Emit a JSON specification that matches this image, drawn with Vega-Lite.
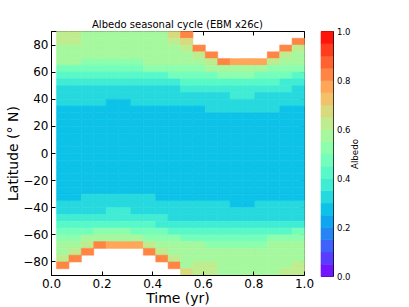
{
"$schema":"https://vega.github.io/schema/vega-lite/v6.json",
"padding":{"left":6,"top":19,"right":0,"bottom":0},
"background":"white",
"bounds":"flush",
"spacing":17,
"config":{
 "view":{"stroke":"black","strokeWidth":1},
 "axis":{"grid":false,"domainColor":"black","domainWidth":1,"tickColor":"black","tickSize":-4,"tickWidth":1,"labelColor":"black","titleColor":"black","labelFont":"DejaVu Sans","titleFont":"DejaVu Sans","labelFontSize":12,"titleFontSize":14,"titleFontWeight":"normal","labelPadding":8,"labelFlush":false,"labelOverlap":false}
},
"hconcat":[
{
"width":253,"height":244,
"title":{"text":"Albedo seasonal cycle (EBM x26c)","font":"DejaVu Sans","fontSize":10,"fontWeight":"normal","color":"black","offset":1},
"resolve":{"axis":{"x":"independent","y":"independent"}},
"layer":[
{
"data":{"values":[
{"t":0.02,"lat":85,"a":0.625},{"t":0.02,"lat":80,"a":0.625},{"t":0.02,"lat":75,"a":0.575},{"t":0.02,"lat":70,"a":0.575},{"t":0.02,"lat":65,"a":0.575},{"t":0.02,"lat":60,"a":0.475},{"t":0.02,"lat":55,"a":0.425},{"t":0.02,"lat":50,"a":0.375},{"t":0.02,"lat":45,"a":0.325},{"t":0.02,"lat":40,"a":0.325},{"t":0.02,"lat":35,"a":0.325},{"t":0.02,"lat":30,"a":0.275},
{"t":0.02,"lat":25,"a":0.275},{"t":0.02,"lat":20,"a":0.275},{"t":0.02,"lat":15,"a":0.275},{"t":0.02,"lat":10,"a":0.275},{"t":0.02,"lat":5,"a":0.275},{"t":0.02,"lat":0,"a":0.275},{"t":0.02,"lat":-5,"a":0.275},{"t":0.02,"lat":-10,"a":0.275},{"t":0.02,"lat":-15,"a":0.275},{"t":0.02,"lat":-20,"a":0.275},{"t":0.02,"lat":-25,"a":0.275},{"t":0.02,"lat":-30,"a":0.275},
{"t":0.02,"lat":-35,"a":0.275},{"t":0.02,"lat":-40,"a":0.325},{"t":0.02,"lat":-45,"a":0.325},{"t":0.02,"lat":-50,"a":0.375},{"t":0.02,"lat":-55,"a":0.425},{"t":0.02,"lat":-60,"a":0.475},{"t":0.02,"lat":-65,"a":0.525},{"t":0.02,"lat":-70,"a":0.575},{"t":0.02,"lat":-75,"a":0.575},{"t":0.02,"lat":-80,"a":0.625},{"t":0.02,"lat":-85,"a":0.825},

{"t":0.069,"lat":85,"a":0.625},{"t":0.069,"lat":80,"a":0.625},{"t":0.069,"lat":75,"a":0.575},{"t":0.069,"lat":70,"a":0.575},{"t":0.069,"lat":65,"a":0.575},{"t":0.069,"lat":60,"a":0.475},{"t":0.069,"lat":55,"a":0.425},{"t":0.069,"lat":50,"a":0.375},{"t":0.069,"lat":45,"a":0.325},{"t":0.069,"lat":40,"a":0.325},{"t":0.069,"lat":35,"a":0.325},{"t":0.069,"lat":30,"a":0.275},
{"t":0.069,"lat":25,"a":0.275},{"t":0.069,"lat":20,"a":0.275},{"t":0.069,"lat":15,"a":0.275},{"t":0.069,"lat":10,"a":0.275},{"t":0.069,"lat":5,"a":0.275},{"t":0.069,"lat":0,"a":0.275},{"t":0.069,"lat":-5,"a":0.275},{"t":0.069,"lat":-10,"a":0.275},{"t":0.069,"lat":-15,"a":0.275},{"t":0.069,"lat":-20,"a":0.275},{"t":0.069,"lat":-25,"a":0.275},{"t":0.069,"lat":-30,"a":0.275},
{"t":0.069,"lat":-35,"a":0.275},{"t":0.069,"lat":-40,"a":0.325},{"t":0.069,"lat":-45,"a":0.325},{"t":0.069,"lat":-50,"a":0.375},{"t":0.069,"lat":-55,"a":0.425},{"t":0.069,"lat":-60,"a":0.475},{"t":0.069,"lat":-65,"a":0.525},{"t":0.069,"lat":-70,"a":0.575},{"t":0.069,"lat":-75,"a":0.625},{"t":0.069,"lat":-80,"a":0.825},

{"t":0.118,"lat":85,"a":0.575},{"t":0.118,"lat":80,"a":0.575},{"t":0.118,"lat":75,"a":0.575},{"t":0.118,"lat":70,"a":0.575},{"t":0.118,"lat":65,"a":0.525},{"t":0.118,"lat":60,"a":0.475},{"t":0.118,"lat":55,"a":0.425},{"t":0.118,"lat":50,"a":0.375},{"t":0.118,"lat":45,"a":0.325},{"t":0.118,"lat":40,"a":0.325},{"t":0.118,"lat":35,"a":0.325},{"t":0.118,"lat":30,"a":0.275},
{"t":0.118,"lat":25,"a":0.275},{"t":0.118,"lat":20,"a":0.275},{"t":0.118,"lat":15,"a":0.275},{"t":0.118,"lat":10,"a":0.275},{"t":0.118,"lat":5,"a":0.275},{"t":0.118,"lat":0,"a":0.275},{"t":0.118,"lat":-5,"a":0.275},{"t":0.118,"lat":-10,"a":0.275},{"t":0.118,"lat":-15,"a":0.275},{"t":0.118,"lat":-20,"a":0.275},{"t":0.118,"lat":-25,"a":0.275},{"t":0.118,"lat":-30,"a":0.275},
{"t":0.118,"lat":-35,"a":0.325},{"t":0.118,"lat":-40,"a":0.325},{"t":0.118,"lat":-45,"a":0.325},{"t":0.118,"lat":-50,"a":0.375},{"t":0.118,"lat":-55,"a":0.425},{"t":0.118,"lat":-60,"a":0.475},{"t":0.118,"lat":-65,"a":0.575},{"t":0.118,"lat":-70,"a":0.625},{"t":0.118,"lat":-75,"a":0.825},

{"t":0.167,"lat":85,"a":0.575},{"t":0.167,"lat":80,"a":0.575},{"t":0.167,"lat":75,"a":0.575},{"t":0.167,"lat":70,"a":0.575},{"t":0.167,"lat":65,"a":0.525},{"t":0.167,"lat":60,"a":0.475},{"t":0.167,"lat":55,"a":0.425},{"t":0.167,"lat":50,"a":0.375},{"t":0.167,"lat":45,"a":0.325},{"t":0.167,"lat":40,"a":0.325},{"t":0.167,"lat":35,"a":0.325},{"t":0.167,"lat":30,"a":0.275},
{"t":0.167,"lat":25,"a":0.275},{"t":0.167,"lat":20,"a":0.275},{"t":0.167,"lat":15,"a":0.275},{"t":0.167,"lat":10,"a":0.275},{"t":0.167,"lat":5,"a":0.275},{"t":0.167,"lat":0,"a":0.275},{"t":0.167,"lat":-5,"a":0.275},{"t":0.167,"lat":-10,"a":0.275},{"t":0.167,"lat":-15,"a":0.275},{"t":0.167,"lat":-20,"a":0.275},{"t":0.167,"lat":-25,"a":0.275},{"t":0.167,"lat":-30,"a":0.275},
{"t":0.167,"lat":-35,"a":0.325},{"t":0.167,"lat":-40,"a":0.325},{"t":0.167,"lat":-45,"a":0.325},{"t":0.167,"lat":-50,"a":0.375},{"t":0.167,"lat":-55,"a":0.425},{"t":0.167,"lat":-60,"a":0.525},{"t":0.167,"lat":-65,"a":0.575},{"t":0.167,"lat":-70,"a":0.825},

{"t":0.216,"lat":85,"a":0.575},{"t":0.216,"lat":80,"a":0.575},{"t":0.216,"lat":75,"a":0.575},{"t":0.216,"lat":70,"a":0.575},{"t":0.216,"lat":65,"a":0.525},{"t":0.216,"lat":60,"a":0.475},{"t":0.216,"lat":55,"a":0.425},{"t":0.216,"lat":50,"a":0.375},{"t":0.216,"lat":45,"a":0.325},{"t":0.216,"lat":40,"a":0.325},{"t":0.216,"lat":35,"a":0.275},{"t":0.216,"lat":30,"a":0.275},
{"t":0.216,"lat":25,"a":0.275},{"t":0.216,"lat":20,"a":0.275},{"t":0.216,"lat":15,"a":0.275},{"t":0.216,"lat":10,"a":0.275},{"t":0.216,"lat":5,"a":0.275},{"t":0.216,"lat":0,"a":0.275},{"t":0.216,"lat":-5,"a":0.275},{"t":0.216,"lat":-10,"a":0.275},{"t":0.216,"lat":-15,"a":0.275},{"t":0.216,"lat":-20,"a":0.275},{"t":0.216,"lat":-25,"a":0.275},{"t":0.216,"lat":-30,"a":0.275},
{"t":0.216,"lat":-35,"a":0.325},{"t":0.216,"lat":-40,"a":0.325},{"t":0.216,"lat":-45,"a":0.375},{"t":0.216,"lat":-50,"a":0.375},{"t":0.216,"lat":-55,"a":0.425},{"t":0.216,"lat":-60,"a":0.525},{"t":0.216,"lat":-65,"a":0.575},{"t":0.216,"lat":-70,"a":0.775},

{"t":0.265,"lat":85,"a":0.575},{"t":0.265,"lat":80,"a":0.575},{"t":0.265,"lat":75,"a":0.575},{"t":0.265,"lat":70,"a":0.575},{"t":0.265,"lat":65,"a":0.525},{"t":0.265,"lat":60,"a":0.475},{"t":0.265,"lat":55,"a":0.425},{"t":0.265,"lat":50,"a":0.375},{"t":0.265,"lat":45,"a":0.325},{"t":0.265,"lat":40,"a":0.325},{"t":0.265,"lat":35,"a":0.275},{"t":0.265,"lat":30,"a":0.275},
{"t":0.265,"lat":25,"a":0.275},{"t":0.265,"lat":20,"a":0.275},{"t":0.265,"lat":15,"a":0.275},{"t":0.265,"lat":10,"a":0.275},{"t":0.265,"lat":5,"a":0.275},{"t":0.265,"lat":0,"a":0.275},{"t":0.265,"lat":-5,"a":0.275},{"t":0.265,"lat":-10,"a":0.275},{"t":0.265,"lat":-15,"a":0.275},{"t":0.265,"lat":-20,"a":0.275},{"t":0.265,"lat":-25,"a":0.275},{"t":0.265,"lat":-30,"a":0.275},
{"t":0.265,"lat":-35,"a":0.325},{"t":0.265,"lat":-40,"a":0.325},{"t":0.265,"lat":-45,"a":0.375},{"t":0.265,"lat":-50,"a":0.375},{"t":0.265,"lat":-55,"a":0.425},{"t":0.265,"lat":-60,"a":0.525},{"t":0.265,"lat":-65,"a":0.575},{"t":0.265,"lat":-70,"a":0.775},

{"t":0.314,"lat":85,"a":0.575},{"t":0.314,"lat":80,"a":0.575},{"t":0.314,"lat":75,"a":0.575},{"t":0.314,"lat":70,"a":0.575},{"t":0.314,"lat":65,"a":0.525},{"t":0.314,"lat":60,"a":0.475},{"t":0.314,"lat":55,"a":0.425},{"t":0.314,"lat":50,"a":0.375},{"t":0.314,"lat":45,"a":0.325},{"t":0.314,"lat":40,"a":0.325},{"t":0.314,"lat":35,"a":0.325},{"t":0.314,"lat":30,"a":0.275},
{"t":0.314,"lat":25,"a":0.275},{"t":0.314,"lat":20,"a":0.275},{"t":0.314,"lat":15,"a":0.275},{"t":0.314,"lat":10,"a":0.275},{"t":0.314,"lat":5,"a":0.275},{"t":0.314,"lat":0,"a":0.275},{"t":0.314,"lat":-5,"a":0.275},{"t":0.314,"lat":-10,"a":0.275},{"t":0.314,"lat":-15,"a":0.275},{"t":0.314,"lat":-20,"a":0.275},{"t":0.314,"lat":-25,"a":0.275},{"t":0.314,"lat":-30,"a":0.275},
{"t":0.314,"lat":-35,"a":0.325},{"t":0.314,"lat":-40,"a":0.325},{"t":0.314,"lat":-45,"a":0.325},{"t":0.314,"lat":-50,"a":0.375},{"t":0.314,"lat":-55,"a":0.425},{"t":0.314,"lat":-60,"a":0.475},{"t":0.314,"lat":-65,"a":0.575},{"t":0.314,"lat":-70,"a":0.775},

{"t":0.363,"lat":85,"a":0.575},{"t":0.363,"lat":80,"a":0.575},{"t":0.363,"lat":75,"a":0.575},{"t":0.363,"lat":70,"a":0.575},{"t":0.363,"lat":65,"a":0.575},{"t":0.363,"lat":60,"a":0.525},{"t":0.363,"lat":55,"a":0.425},{"t":0.363,"lat":50,"a":0.375},{"t":0.363,"lat":45,"a":0.325},{"t":0.363,"lat":40,"a":0.325},{"t":0.363,"lat":35,"a":0.325},{"t":0.363,"lat":30,"a":0.275},
{"t":0.363,"lat":25,"a":0.275},{"t":0.363,"lat":20,"a":0.275},{"t":0.363,"lat":15,"a":0.275},{"t":0.363,"lat":10,"a":0.275},{"t":0.363,"lat":5,"a":0.275},{"t":0.363,"lat":0,"a":0.275},{"t":0.363,"lat":-5,"a":0.275},{"t":0.363,"lat":-10,"a":0.275},{"t":0.363,"lat":-15,"a":0.275},{"t":0.363,"lat":-20,"a":0.275},{"t":0.363,"lat":-25,"a":0.275},{"t":0.363,"lat":-30,"a":0.275},
{"t":0.363,"lat":-35,"a":0.325},{"t":0.363,"lat":-40,"a":0.325},{"t":0.363,"lat":-45,"a":0.325},{"t":0.363,"lat":-50,"a":0.375},{"t":0.363,"lat":-55,"a":0.425},{"t":0.363,"lat":-60,"a":0.475},{"t":0.363,"lat":-65,"a":0.525},{"t":0.363,"lat":-70,"a":0.625},{"t":0.363,"lat":-75,"a":0.825},

{"t":0.412,"lat":85,"a":0.575},{"t":0.412,"lat":80,"a":0.575},{"t":0.412,"lat":75,"a":0.575},{"t":0.412,"lat":70,"a":0.575},{"t":0.412,"lat":65,"a":0.575},{"t":0.412,"lat":60,"a":0.525},{"t":0.412,"lat":55,"a":0.425},{"t":0.412,"lat":50,"a":0.375},{"t":0.412,"lat":45,"a":0.325},{"t":0.412,"lat":40,"a":0.325},{"t":0.412,"lat":35,"a":0.325},{"t":0.412,"lat":30,"a":0.275},
{"t":0.412,"lat":25,"a":0.275},{"t":0.412,"lat":20,"a":0.275},{"t":0.412,"lat":15,"a":0.275},{"t":0.412,"lat":10,"a":0.275},{"t":0.412,"lat":5,"a":0.275},{"t":0.412,"lat":0,"a":0.275},{"t":0.412,"lat":-5,"a":0.275},{"t":0.412,"lat":-10,"a":0.275},{"t":0.412,"lat":-15,"a":0.275},{"t":0.412,"lat":-20,"a":0.275},{"t":0.412,"lat":-25,"a":0.275},{"t":0.412,"lat":-30,"a":0.275},
{"t":0.412,"lat":-35,"a":0.275},{"t":0.412,"lat":-40,"a":0.325},{"t":0.412,"lat":-45,"a":0.325},{"t":0.412,"lat":-50,"a":0.375},{"t":0.412,"lat":-55,"a":0.375},{"t":0.412,"lat":-60,"a":0.475},{"t":0.412,"lat":-65,"a":0.525},{"t":0.412,"lat":-70,"a":0.575},{"t":0.412,"lat":-75,"a":0.625},{"t":0.412,"lat":-80,"a":0.825},

{"t":0.461,"lat":85,"a":0.675},{"t":0.461,"lat":80,"a":0.625},{"t":0.461,"lat":75,"a":0.575},{"t":0.461,"lat":70,"a":0.575},{"t":0.461,"lat":65,"a":0.575},{"t":0.461,"lat":60,"a":0.525},{"t":0.461,"lat":55,"a":0.475},{"t":0.461,"lat":50,"a":0.375},{"t":0.461,"lat":45,"a":0.325},{"t":0.461,"lat":40,"a":0.325},{"t":0.461,"lat":35,"a":0.325},{"t":0.461,"lat":30,"a":0.275},
{"t":0.461,"lat":25,"a":0.275},{"t":0.461,"lat":20,"a":0.275},{"t":0.461,"lat":15,"a":0.275},{"t":0.461,"lat":10,"a":0.275},{"t":0.461,"lat":5,"a":0.275},{"t":0.461,"lat":0,"a":0.275},{"t":0.461,"lat":-5,"a":0.275},{"t":0.461,"lat":-10,"a":0.275},{"t":0.461,"lat":-15,"a":0.275},{"t":0.461,"lat":-20,"a":0.275},{"t":0.461,"lat":-25,"a":0.275},{"t":0.461,"lat":-30,"a":0.275},
{"t":0.461,"lat":-35,"a":0.275},{"t":0.461,"lat":-40,"a":0.325},{"t":0.461,"lat":-45,"a":0.325},{"t":0.461,"lat":-50,"a":0.325},{"t":0.461,"lat":-55,"a":0.375},{"t":0.461,"lat":-60,"a":0.425},{"t":0.461,"lat":-65,"a":0.525},{"t":0.461,"lat":-70,"a":0.575},{"t":0.461,"lat":-75,"a":0.575},{"t":0.461,"lat":-80,"a":0.625},{"t":0.461,"lat":-85,"a":0.825},

{"t":0.51,"lat":85,"a":0.825},{"t":0.51,"lat":80,"a":0.675},{"t":0.51,"lat":75,"a":0.625},{"t":0.51,"lat":70,"a":0.575},{"t":0.51,"lat":65,"a":0.575},{"t":0.51,"lat":60,"a":0.525},{"t":0.51,"lat":55,"a":0.475},{"t":0.51,"lat":50,"a":0.425},{"t":0.51,"lat":45,"a":0.375},{"t":0.51,"lat":40,"a":0.325},{"t":0.51,"lat":35,"a":0.325},{"t":0.51,"lat":30,"a":0.275},
{"t":0.51,"lat":25,"a":0.275},{"t":0.51,"lat":20,"a":0.275},{"t":0.51,"lat":15,"a":0.275},{"t":0.51,"lat":10,"a":0.275},{"t":0.51,"lat":5,"a":0.275},{"t":0.51,"lat":0,"a":0.275},{"t":0.51,"lat":-5,"a":0.275},{"t":0.51,"lat":-10,"a":0.275},{"t":0.51,"lat":-15,"a":0.275},{"t":0.51,"lat":-20,"a":0.275},{"t":0.51,"lat":-25,"a":0.275},{"t":0.51,"lat":-30,"a":0.275},
{"t":0.51,"lat":-35,"a":0.275},{"t":0.51,"lat":-40,"a":0.325},{"t":0.51,"lat":-45,"a":0.325},{"t":0.51,"lat":-50,"a":0.325},{"t":0.51,"lat":-55,"a":0.375},{"t":0.51,"lat":-60,"a":0.425},{"t":0.51,"lat":-65,"a":0.475},{"t":0.51,"lat":-70,"a":0.575},{"t":0.51,"lat":-75,"a":0.575},{"t":0.51,"lat":-80,"a":0.575},{"t":0.51,"lat":-85,"a":0.575},{"t":0.51,"lat":-90,"a":0.675},

{"t":0.559,"lat":75,"a":0.825},{"t":0.559,"lat":70,"a":0.625},{"t":0.559,"lat":65,"a":0.575},{"t":0.559,"lat":60,"a":0.525},{"t":0.559,"lat":55,"a":0.475},{"t":0.559,"lat":50,"a":0.425},{"t":0.559,"lat":45,"a":0.375},{"t":0.559,"lat":40,"a":0.325},{"t":0.559,"lat":35,"a":0.325},{"t":0.559,"lat":30,"a":0.275},
{"t":0.559,"lat":25,"a":0.275},{"t":0.559,"lat":20,"a":0.275},{"t":0.559,"lat":15,"a":0.275},{"t":0.559,"lat":10,"a":0.275},{"t":0.559,"lat":5,"a":0.275},{"t":0.559,"lat":0,"a":0.275},{"t":0.559,"lat":-5,"a":0.275},{"t":0.559,"lat":-10,"a":0.275},{"t":0.559,"lat":-15,"a":0.275},{"t":0.559,"lat":-20,"a":0.275},{"t":0.559,"lat":-25,"a":0.275},{"t":0.559,"lat":-30,"a":0.275},
{"t":0.559,"lat":-35,"a":0.275},{"t":0.559,"lat":-40,"a":0.325},{"t":0.559,"lat":-45,"a":0.325},{"t":0.559,"lat":-50,"a":0.325},{"t":0.559,"lat":-55,"a":0.375},{"t":0.559,"lat":-60,"a":0.425},{"t":0.559,"lat":-65,"a":0.475},{"t":0.559,"lat":-70,"a":0.575},{"t":0.559,"lat":-75,"a":0.575},{"t":0.559,"lat":-80,"a":0.575},{"t":0.559,"lat":-85,"a":0.625},{"t":0.559,"lat":-90,"a":0.625},

{"t":0.608,"lat":70,"a":0.825},{"t":0.608,"lat":65,"a":0.625},{"t":0.608,"lat":60,"a":0.575},{"t":0.608,"lat":55,"a":0.475},{"t":0.608,"lat":50,"a":0.425},{"t":0.608,"lat":45,"a":0.375},{"t":0.608,"lat":40,"a":0.325},{"t":0.608,"lat":35,"a":0.325},{"t":0.608,"lat":30,"a":0.325},
{"t":0.608,"lat":25,"a":0.275},{"t":0.608,"lat":20,"a":0.275},{"t":0.608,"lat":15,"a":0.275},{"t":0.608,"lat":10,"a":0.275},{"t":0.608,"lat":5,"a":0.275},{"t":0.608,"lat":0,"a":0.275},{"t":0.608,"lat":-5,"a":0.275},{"t":0.608,"lat":-10,"a":0.275},{"t":0.608,"lat":-15,"a":0.275},{"t":0.608,"lat":-20,"a":0.275},{"t":0.608,"lat":-25,"a":0.275},{"t":0.608,"lat":-30,"a":0.275},
{"t":0.608,"lat":-35,"a":0.275},{"t":0.608,"lat":-40,"a":0.325},{"t":0.608,"lat":-45,"a":0.325},{"t":0.608,"lat":-50,"a":0.325},{"t":0.608,"lat":-55,"a":0.375},{"t":0.608,"lat":-60,"a":0.425},{"t":0.608,"lat":-65,"a":0.475},{"t":0.608,"lat":-70,"a":0.525},{"t":0.608,"lat":-75,"a":0.575},{"t":0.608,"lat":-80,"a":0.575},{"t":0.608,"lat":-85,"a":0.625},{"t":0.608,"lat":-90,"a":0.625},

{"t":0.657,"lat":65,"a":0.825},{"t":0.657,"lat":60,"a":0.575},{"t":0.657,"lat":55,"a":0.525},{"t":0.657,"lat":50,"a":0.425},{"t":0.657,"lat":45,"a":0.375},{"t":0.657,"lat":40,"a":0.325},{"t":0.657,"lat":35,"a":0.325},{"t":0.657,"lat":30,"a":0.325},
{"t":0.657,"lat":25,"a":0.275},{"t":0.657,"lat":20,"a":0.275},{"t":0.657,"lat":15,"a":0.275},{"t":0.657,"lat":10,"a":0.275},{"t":0.657,"lat":5,"a":0.275},{"t":0.657,"lat":0,"a":0.275},{"t":0.657,"lat":-5,"a":0.275},{"t":0.657,"lat":-10,"a":0.275},{"t":0.657,"lat":-15,"a":0.275},{"t":0.657,"lat":-20,"a":0.275},{"t":0.657,"lat":-25,"a":0.275},{"t":0.657,"lat":-30,"a":0.275},
{"t":0.657,"lat":-35,"a":0.275},{"t":0.657,"lat":-40,"a":0.325},{"t":0.657,"lat":-45,"a":0.325},{"t":0.657,"lat":-50,"a":0.325},{"t":0.657,"lat":-55,"a":0.375},{"t":0.657,"lat":-60,"a":0.425},{"t":0.657,"lat":-65,"a":0.475},{"t":0.657,"lat":-70,"a":0.525},{"t":0.657,"lat":-75,"a":0.575},{"t":0.657,"lat":-80,"a":0.575},{"t":0.657,"lat":-85,"a":0.575},{"t":0.657,"lat":-90,"a":0.575},

{"t":0.706,"lat":65,"a":0.775},{"t":0.706,"lat":60,"a":0.575},{"t":0.706,"lat":55,"a":0.525},{"t":0.706,"lat":50,"a":0.425},{"t":0.706,"lat":45,"a":0.375},{"t":0.706,"lat":40,"a":0.375},{"t":0.706,"lat":35,"a":0.325},{"t":0.706,"lat":30,"a":0.325},
{"t":0.706,"lat":25,"a":0.275},{"t":0.706,"lat":20,"a":0.275},{"t":0.706,"lat":15,"a":0.275},{"t":0.706,"lat":10,"a":0.275},{"t":0.706,"lat":5,"a":0.275},{"t":0.706,"lat":0,"a":0.275},{"t":0.706,"lat":-5,"a":0.275},{"t":0.706,"lat":-10,"a":0.275},{"t":0.706,"lat":-15,"a":0.275},{"t":0.706,"lat":-20,"a":0.275},{"t":0.706,"lat":-25,"a":0.275},{"t":0.706,"lat":-30,"a":0.275},
{"t":0.706,"lat":-35,"a":0.275},{"t":0.706,"lat":-40,"a":0.275},{"t":0.706,"lat":-45,"a":0.325},{"t":0.706,"lat":-50,"a":0.325},{"t":0.706,"lat":-55,"a":0.375},{"t":0.706,"lat":-60,"a":0.425},{"t":0.706,"lat":-65,"a":0.475},{"t":0.706,"lat":-70,"a":0.525},{"t":0.706,"lat":-75,"a":0.575},{"t":0.706,"lat":-80,"a":0.575},{"t":0.706,"lat":-85,"a":0.575},{"t":0.706,"lat":-90,"a":0.575},

{"t":0.755,"lat":65,"a":0.775},{"t":0.755,"lat":60,"a":0.575},{"t":0.755,"lat":55,"a":0.525},{"t":0.755,"lat":50,"a":0.425},{"t":0.755,"lat":45,"a":0.375},{"t":0.755,"lat":40,"a":0.375},{"t":0.755,"lat":35,"a":0.325},{"t":0.755,"lat":30,"a":0.325},
{"t":0.755,"lat":25,"a":0.275},{"t":0.755,"lat":20,"a":0.275},{"t":0.755,"lat":15,"a":0.275},{"t":0.755,"lat":10,"a":0.275},{"t":0.755,"lat":5,"a":0.275},{"t":0.755,"lat":0,"a":0.275},{"t":0.755,"lat":-5,"a":0.275},{"t":0.755,"lat":-10,"a":0.275},{"t":0.755,"lat":-15,"a":0.275},{"t":0.755,"lat":-20,"a":0.275},{"t":0.755,"lat":-25,"a":0.275},{"t":0.755,"lat":-30,"a":0.275},
{"t":0.755,"lat":-35,"a":0.275},{"t":0.755,"lat":-40,"a":0.275},{"t":0.755,"lat":-45,"a":0.325},{"t":0.755,"lat":-50,"a":0.325},{"t":0.755,"lat":-55,"a":0.375},{"t":0.755,"lat":-60,"a":0.425},{"t":0.755,"lat":-65,"a":0.475},{"t":0.755,"lat":-70,"a":0.525},{"t":0.755,"lat":-75,"a":0.575},{"t":0.755,"lat":-80,"a":0.575},{"t":0.755,"lat":-85,"a":0.575},{"t":0.755,"lat":-90,"a":0.575},

{"t":0.804,"lat":65,"a":0.775},{"t":0.804,"lat":60,"a":0.575},{"t":0.804,"lat":55,"a":0.475},{"t":0.804,"lat":50,"a":0.425},{"t":0.804,"lat":45,"a":0.375},{"t":0.804,"lat":40,"a":0.325},{"t":0.804,"lat":35,"a":0.325},{"t":0.804,"lat":30,"a":0.325},
{"t":0.804,"lat":25,"a":0.275},{"t":0.804,"lat":20,"a":0.275},{"t":0.804,"lat":15,"a":0.275},{"t":0.804,"lat":10,"a":0.275},{"t":0.804,"lat":5,"a":0.275},{"t":0.804,"lat":0,"a":0.275},{"t":0.804,"lat":-5,"a":0.275},{"t":0.804,"lat":-10,"a":0.275},{"t":0.804,"lat":-15,"a":0.275},{"t":0.804,"lat":-20,"a":0.275},{"t":0.804,"lat":-25,"a":0.275},{"t":0.804,"lat":-30,"a":0.275},
{"t":0.804,"lat":-35,"a":0.275},{"t":0.804,"lat":-40,"a":0.325},{"t":0.804,"lat":-45,"a":0.325},{"t":0.804,"lat":-50,"a":0.325},{"t":0.804,"lat":-55,"a":0.375},{"t":0.804,"lat":-60,"a":0.425},{"t":0.804,"lat":-65,"a":0.475},{"t":0.804,"lat":-70,"a":0.525},{"t":0.804,"lat":-75,"a":0.575},{"t":0.804,"lat":-80,"a":0.575},{"t":0.804,"lat":-85,"a":0.575},{"t":0.804,"lat":-90,"a":0.575},

{"t":0.853,"lat":70,"a":0.825},{"t":0.853,"lat":65,"a":0.625},{"t":0.853,"lat":60,"a":0.525},{"t":0.853,"lat":55,"a":0.475},{"t":0.853,"lat":50,"a":0.425},{"t":0.853,"lat":45,"a":0.375},{"t":0.853,"lat":40,"a":0.325},{"t":0.853,"lat":35,"a":0.325},{"t":0.853,"lat":30,"a":0.325},
{"t":0.853,"lat":25,"a":0.275},{"t":0.853,"lat":20,"a":0.275},{"t":0.853,"lat":15,"a":0.275},{"t":0.853,"lat":10,"a":0.275},{"t":0.853,"lat":5,"a":0.275},{"t":0.853,"lat":0,"a":0.275},{"t":0.853,"lat":-5,"a":0.275},{"t":0.853,"lat":-10,"a":0.275},{"t":0.853,"lat":-15,"a":0.275},{"t":0.853,"lat":-20,"a":0.275},{"t":0.853,"lat":-25,"a":0.275},{"t":0.853,"lat":-30,"a":0.275},
{"t":0.853,"lat":-35,"a":0.275},{"t":0.853,"lat":-40,"a":0.325},{"t":0.853,"lat":-45,"a":0.325},{"t":0.853,"lat":-50,"a":0.325},{"t":0.853,"lat":-55,"a":0.375},{"t":0.853,"lat":-60,"a":0.425},{"t":0.853,"lat":-65,"a":0.525},{"t":0.853,"lat":-70,"a":0.575},{"t":0.853,"lat":-75,"a":0.575},{"t":0.853,"lat":-80,"a":0.575},{"t":0.853,"lat":-85,"a":0.575},{"t":0.853,"lat":-90,"a":0.575},

{"t":0.902,"lat":75,"a":0.825},{"t":0.902,"lat":70,"a":0.625},{"t":0.902,"lat":65,"a":0.575},{"t":0.902,"lat":60,"a":0.525},{"t":0.902,"lat":55,"a":0.475},{"t":0.902,"lat":50,"a":0.375},{"t":0.902,"lat":45,"a":0.375},{"t":0.902,"lat":40,"a":0.325},{"t":0.902,"lat":35,"a":0.325},{"t":0.902,"lat":30,"a":0.275},
{"t":0.902,"lat":25,"a":0.275},{"t":0.902,"lat":20,"a":0.275},{"t":0.902,"lat":15,"a":0.275},{"t":0.902,"lat":10,"a":0.275},{"t":0.902,"lat":5,"a":0.275},{"t":0.902,"lat":0,"a":0.275},{"t":0.902,"lat":-5,"a":0.275},{"t":0.902,"lat":-10,"a":0.275},{"t":0.902,"lat":-15,"a":0.275},{"t":0.902,"lat":-20,"a":0.275},{"t":0.902,"lat":-25,"a":0.275},{"t":0.902,"lat":-30,"a":0.275},
{"t":0.902,"lat":-35,"a":0.275},{"t":0.902,"lat":-40,"a":0.325},{"t":0.902,"lat":-45,"a":0.325},{"t":0.902,"lat":-50,"a":0.325},{"t":0.902,"lat":-55,"a":0.375},{"t":0.902,"lat":-60,"a":0.425},{"t":0.902,"lat":-65,"a":0.525},{"t":0.902,"lat":-70,"a":0.575},{"t":0.902,"lat":-75,"a":0.575},{"t":0.902,"lat":-80,"a":0.575},{"t":0.902,"lat":-85,"a":0.575},{"t":0.902,"lat":-90,"a":0.625},

{"t":0.951,"lat":80,"a":0.825},{"t":0.951,"lat":75,"a":0.625},{"t":0.951,"lat":70,"a":0.575},{"t":0.951,"lat":65,"a":0.575},{"t":0.951,"lat":60,"a":0.525},{"t":0.951,"lat":55,"a":0.425},{"t":0.951,"lat":50,"a":0.375},{"t":0.951,"lat":45,"a":0.325},{"t":0.951,"lat":40,"a":0.325},{"t":0.951,"lat":35,"a":0.325},{"t":0.951,"lat":30,"a":0.275},
{"t":0.951,"lat":25,"a":0.275},{"t":0.951,"lat":20,"a":0.275},{"t":0.951,"lat":15,"a":0.275},{"t":0.951,"lat":10,"a":0.275},{"t":0.951,"lat":5,"a":0.275},{"t":0.951,"lat":0,"a":0.275},{"t":0.951,"lat":-5,"a":0.275},{"t":0.951,"lat":-10,"a":0.275},{"t":0.951,"lat":-15,"a":0.275},{"t":0.951,"lat":-20,"a":0.275},{"t":0.951,"lat":-25,"a":0.275},{"t":0.951,"lat":-30,"a":0.275},
{"t":0.951,"lat":-35,"a":0.275},{"t":0.951,"lat":-40,"a":0.325},{"t":0.951,"lat":-45,"a":0.325},{"t":0.951,"lat":-50,"a":0.325},{"t":0.951,"lat":-55,"a":0.375},{"t":0.951,"lat":-60,"a":0.475},{"t":0.951,"lat":-65,"a":0.525},{"t":0.951,"lat":-70,"a":0.575},{"t":0.951,"lat":-75,"a":0.575},{"t":0.951,"lat":-80,"a":0.575},{"t":0.951,"lat":-85,"a":0.625},{"t":0.951,"lat":-90,"a":0.625}
]},
"mark":{"type":"rect","binSpacing":0,"strokeWidth":0.6},
"encoding":{
 "x":{"field":"t","type":"quantitative","bin":{"binned":true,"step":0.049},"scale":{"domain":[0,1],"nice":false,"zero":false},"axis":{"orient":"bottom","title":"Time (yr)","values":[0,0.2,0.4,0.6,0.8,1],"format":".1f","labelPadding":7,"titlePadding":2}},
 "y":{"field":"lat","type":"quantitative","bin":{"binned":true,"step":5},"scale":{"domain":[-90,90],"nice":false},"axis":{"orient":"left","title":"Latitude (° N)","values":[-80,-60,-40,-20,0,20,40,60,80],"labelPadding":7,"titlePadding":2}},
 "color":{"field":"a","type":"quantitative","scale":{"type":"quantize","domain":[0,1],"nice":false,"range":["#7314ff","#593cfd","#4062fa","#2685f5","#0da6ef","#0dc2e8","#26d9de","#40ecd4","#59f8c8","#73febb","#8cfead","#a6f89e","#bfec8e","#d9d97d","#f2c26b","#ffa658","#ff8545","#ff6232","#ff3c1e","#ff140a"]},"legend":null},
 "stroke":{"field":"a","type":"quantitative","scale":{"type":"quantize","domain":[0,1],"nice":false,"range":["#7314ff","#593cfd","#4062fa","#2685f5","#0da6ef","#0dc2e8","#26d9de","#40ecd4","#59f8c8","#73febb","#8cfead","#a6f89e","#bfec8e","#d9d97d","#f2c26b","#ffa658","#ff8545","#ff6232","#ff3c1e","#ff140a"]},"legend":null}
}
},
{
"data":{"values":[{"t":0,"lat":0}]},
"mark":{"type":"point","opacity":0},
"encoding":{
 "x":{"field":"t","type":"quantitative","axis":{"orient":"top","labels":false,"title":null,"domain":false,"values":[0,0.2,0.4,0.6,0.8,1]}},
 "y":{"field":"lat","type":"quantitative","axis":{"orient":"right","labels":false,"title":null,"domain":false,"values":[-80,-60,-40,-20,0,20,40,60,80]}}
}
}
]
},
{
"width":12,"height":245,
"data":{"values":[
{"lo":0,"a":0.025},{"lo":0.05,"a":0.075},{"lo":0.1,"a":0.125},{"lo":0.15,"a":0.175},{"lo":0.2,"a":0.225},{"lo":0.25,"a":0.275},{"lo":0.3,"a":0.325},{"lo":0.35,"a":0.375},{"lo":0.4,"a":0.425},{"lo":0.45,"a":0.475},
{"lo":0.5,"a":0.525},{"lo":0.55,"a":0.575},{"lo":0.6,"a":0.625},{"lo":0.65,"a":0.675},{"lo":0.7,"a":0.725},{"lo":0.75,"a":0.775},{"lo":0.8,"a":0.825},{"lo":0.85,"a":0.875},{"lo":0.9,"a":0.925},{"lo":0.95,"a":0.975}
]},
"mark":{"type":"rect","binSpacing":0,"strokeWidth":0.6},
"encoding":{
 "y":{"field":"lo","type":"quantitative","bin":{"binned":true,"step":0.05},"scale":{"domain":[0,1],"nice":false},"axis":{"orient":"right","title":"Albedo","values":[0,0.2,0.4,0.6,0.8,1],"format":".1f","ticks":false,"domain":false,"labelFontSize":8.5,"labelPadding":3.5,"titleFontSize":8.7,"titleAngle":270,"titlePadding":9}},
 "color":{"field":"a","type":"quantitative","scale":{"type":"quantize","domain":[0,1],"nice":false,"range":["#7314ff","#593cfd","#4062fa","#2685f5","#0da6ef","#0dc2e8","#26d9de","#40ecd4","#59f8c8","#73febb","#8cfead","#a6f89e","#bfec8e","#d9d97d","#f2c26b","#ffa658","#ff8545","#ff6232","#ff3c1e","#ff140a"]},"legend":null},
 "stroke":{"field":"a","type":"quantitative","scale":{"type":"quantize","domain":[0,1],"nice":false,"range":["#7314ff","#593cfd","#4062fa","#2685f5","#0da6ef","#0dc2e8","#26d9de","#40ecd4","#59f8c8","#73febb","#8cfead","#a6f89e","#bfec8e","#d9d97d","#f2c26b","#ffa658","#ff8545","#ff6232","#ff3c1e","#ff140a"]},"legend":null}
}
}
]
}
